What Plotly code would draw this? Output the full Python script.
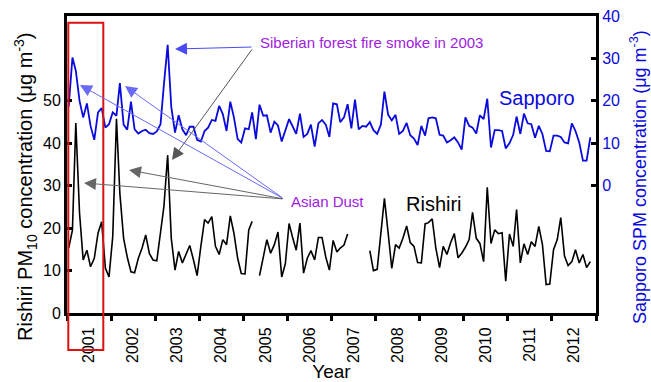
import plotly.graph_objects as go
import pandas as pd

# Monthly data, Jan 2001 - Nov 2012
start_month = "2001-01-01"
n_months = 143

rishiri_pm10 = [
    15.3, 19.5, 44.8, 23.5, 12.5, 14.8, 10.9, 12.9, 18.8, 21.5, 10.6, 8.5,      # 2001
    18.0, 45.8, 28.2, 17.6, 13.2, 9.7, 9.5, 12.9, 15.3, 18.4, 14.0, 12.5,       # 2002
    12.3, 18.8, 25.1, 37.2, 17.6, 10.1, 14.5, 11.8, 14.1, 15.9, 12.5, 8.8,      # 2003
    15.7, 22.0, 21.2, 22.7, 15.7, 13.8, 17.3, 16.1, 22.9, 18.8, 12.9, 9.3,      # 2004
    9.2, 19.6, 21.6, None, 8.8, 12.9, 17.3, 14.1, 16.1, 19.1, 8.5, 11.6,        # 2005
    21.1, 17.6, 14.8, 21.2, 9.4, 12.9, 14.7, 12.5, 17.8, 17.8, 13.2, 10.1,      # 2006
    17.1, 14.4, 15.3, 16.0, 18.6, None, None, None, None, None, 14.7, 10.0,     # 2007
    10.3, 18.8, 27.0, 18.8, 10.5, 16.1, 15.3, 17.6, 20.5, 16.6, 15.7, 11.9,     # 2008
    11.8, 21.0, 21.3, 22.2, 15.3, 10.7, 15.7, 13.8, 16.6, 18.7, 13.0, 14.1,     # 2009
    15.5, 17.3, 23.7, 17.6, 16.4, 12.1, 29.6, 16.4, 19.6, 18.7, 18.9, 7.5,      # 2010
    18.6, 15.7, 24.4, 11.8, 16.3, 13.8, 16.8, 15.7, 20.4, 16.2, 6.7, 6.8,       # 2011
    14.9, 17.3, 22.5, 13.4, 11.2, 12.1, 14.9, 11.8, 13.8, 10.7, 12.1,           # 2012
]

sapporo_spm = [
    18.6, 30.2, 27.1, 20.0, 16.1, 19.4, 14.1, 10.8, 17.3, 18.3, 13.7, 14.5,     # 2001
    17.3, 16.5, 24.2, 14.4, 13.2, 19.8, 13.3, 12.3, 12.9, 13.2, 12.4, 12.2,     # 2002
    12.8, 14.5, 23.9, 33.2, 18.6, 12.5, 16.6, 13.3, 11.9, 13.9, 13.9, 10.8,     # 2003
    10.4, 12.9, 13.7, 15.5, 15.3, 18.8, 16.9, 12.9, 19.8, 16.1, 11.0, 10.2,     # 2004
    13.5, 13.3, 17.3, 11.0, 19.1, 16.5, 16.6, 12.5, 15.1, 14.2, 10.4, 13.3,     # 2005
    15.7, 13.9, 12.2, 17.0, 11.5, 12.2, 14.4, 9.2, 14.7, 15.5, 14.4, 11.5,      # 2006
    19.4, 19.2, 15.0, 16.1, 19.2, 13.5, 20.3, 13.3, 14.1, 13.9, 15.0, 13.1,     # 2007
    12.2, 14.4, 22.2, 16.7, 15.4, 16.7, 12.2, 12.9, 14.8, 11.9, 11.1, 9.6,      # 2008
    14.1, 11.8, 15.9, 16.1, 15.9, 12.0, 11.8, 10.2, 10.7, 11.4, 10.2, 8.5,      # 2009
    16.1, 14.1, 13.7, 12.3, 16.6, 15.7, 20.5, 9.0, 13.1, 13.1, 12.9, 8.8,       # 2010
    10.0, 12.0, 16.3, 12.2, 17.0, 14.7, 14.5, 11.3, 14.1, 12.2, 8.2, 8.1,       # 2011
    11.8, 11.8, 11.5, 10.2, 10.0, 14.7, 12.9, 10.2, 5.9, 5.9, 11.4,             # 2012
]

left_ticks = [0, 10, 20, 30, 40, 50]
right_ticks = [0, 10, 20, 30, 40]

dates = pd.date_range(start_month, periods=n_months, freq="MS") + pd.Timedelta(days=14)

FONT = "Arial, Liberation Sans, sans-serif"
BLUE = "#0a0adc"
PURPLE = "#a020e0"

# plot-area pixel geometry (for annotation placement)
L, R, T, B = 67, 596, 16, 313
W, H = R - L, B - T


def px(xp, yp):
    return (xp - L) / W, (B - yp) / H


def arrow(hx, hy, tx, ty, color):
    x, y = px(hx, hy)
    return dict(x=x, y=y, xref="paper", yref="paper", ax=tx - hx, ay=ty - hy,
                axref="pixel", ayref="pixel", text="", showarrow=True,
                arrowhead=2, arrowsize=2.4, arrowwidth=1, arrowcolor=color,
                standoff=0, startstandoff=0)


fig = go.Figure()
fig.add_trace(go.Scatter(x=dates, y=rishiri_pm10, mode="lines",
                         line=dict(color="black", width=1.6), connectgaps=False,
                         showlegend=False))
fig.add_trace(go.Scatter(x=dates, y=sapporo_spm, mode="lines", yaxis="y2",
                         line=dict(color=BLUE, width=1.8), showlegend=False))

annotations = []
for (x, y, txt, col, size, ang) in [
    (371, 42, "Siberian forest fire smoke in 2003", PURPLE, 15, 0),
    (327.5, 201.5, "Asian Dust", PURPLE, 15, 0),
    (537, 98, "Sapporo", BLUE, 20, 0),
    (434, 204, "Rishiri", "black", 20, 0),
    (26, 187, "Rishiri PM<sub>10</sub> concentration (μg m<sup>-3</sup>)", "black", 20, -90),
    (638, 177, "Sapporo SPM concentration (μg m<sup>-3</sup>)", BLUE, 18, -90),
]:
    xx, yy = px(x, y)
    annotations.append(dict(x=xx, y=yy, xref="paper", yref="paper", text=txt,
                            xanchor="center", yanchor="middle", textangle=ang,
                            showarrow=False, font=dict(family=FONT, size=size, color=col)))

annotations += [
    arrow(175, 49, 253, 47, "#4a4af5"),
    arrow(172, 160, 253, 48, "#555555"),
    arrow(80, 85, 284, 199, "#6a6af5"),
    arrow(125, 86, 284, 199, "#6a6af5"),
    arrow(84, 183, 284, 199, "#666666"),
    arrow(129, 170, 284, 199, "#666666"),
]

x0, y0 = px(68.3, 350)
x1, y1 = px(103.3, 22.7)
shapes = [dict(type="rect", xref="paper", yref="paper", x0=x0, x1=x1, y0=y0, y1=y1,
               line=dict(color="#dd1111", width=2), fillcolor="rgba(0,0,0,0)")]

fig.update_layout(
    width=651, height=382,
    margin=dict(l=L, r=651 - R, t=T, b=382 - B),
    plot_bgcolor="white", paper_bgcolor="white",
    font=dict(family=FONT, color="black"),
    xaxis=dict(type="date", range=["2001-01-01", "2013-01-01"], automargin=False,
               tick0="2001-01-01", dtick="M12", ticklabelmode="period",
               tickformat="%Y", tickangle=-90, ticks="outside", ticklen=5,
               tickwidth=3, tickcolor="black", showline=True, linecolor="black",
               linewidth=3, mirror=True, showgrid=False, zeroline=False,
               tickfont=dict(size=16), title=dict(text="Year", font=dict(size=19), standoff=6)),
    yaxis=dict(range=[0, 70], tickvals=left_ticks, ticks="inside", ticklen=5,
               tickwidth=3, tickcolor="black", showline=True, linecolor="black",
               linewidth=3, showgrid=False, zeroline=False, tickfont=dict(size=16),
               automargin=False),
    yaxis2=dict(range=[-30, 40], tickvals=right_ticks, overlaying="y", side="right",
                ticks="inside", ticklen=5, tickwidth=3, tickcolor="black",
                showline=True, linecolor="black", linewidth=3, showgrid=False,
                zeroline=False, tickfont=dict(size=16, color=BLUE), automargin=False),
    annotations=annotations,
    shapes=shapes,
)

fig.write_html("out.html")
